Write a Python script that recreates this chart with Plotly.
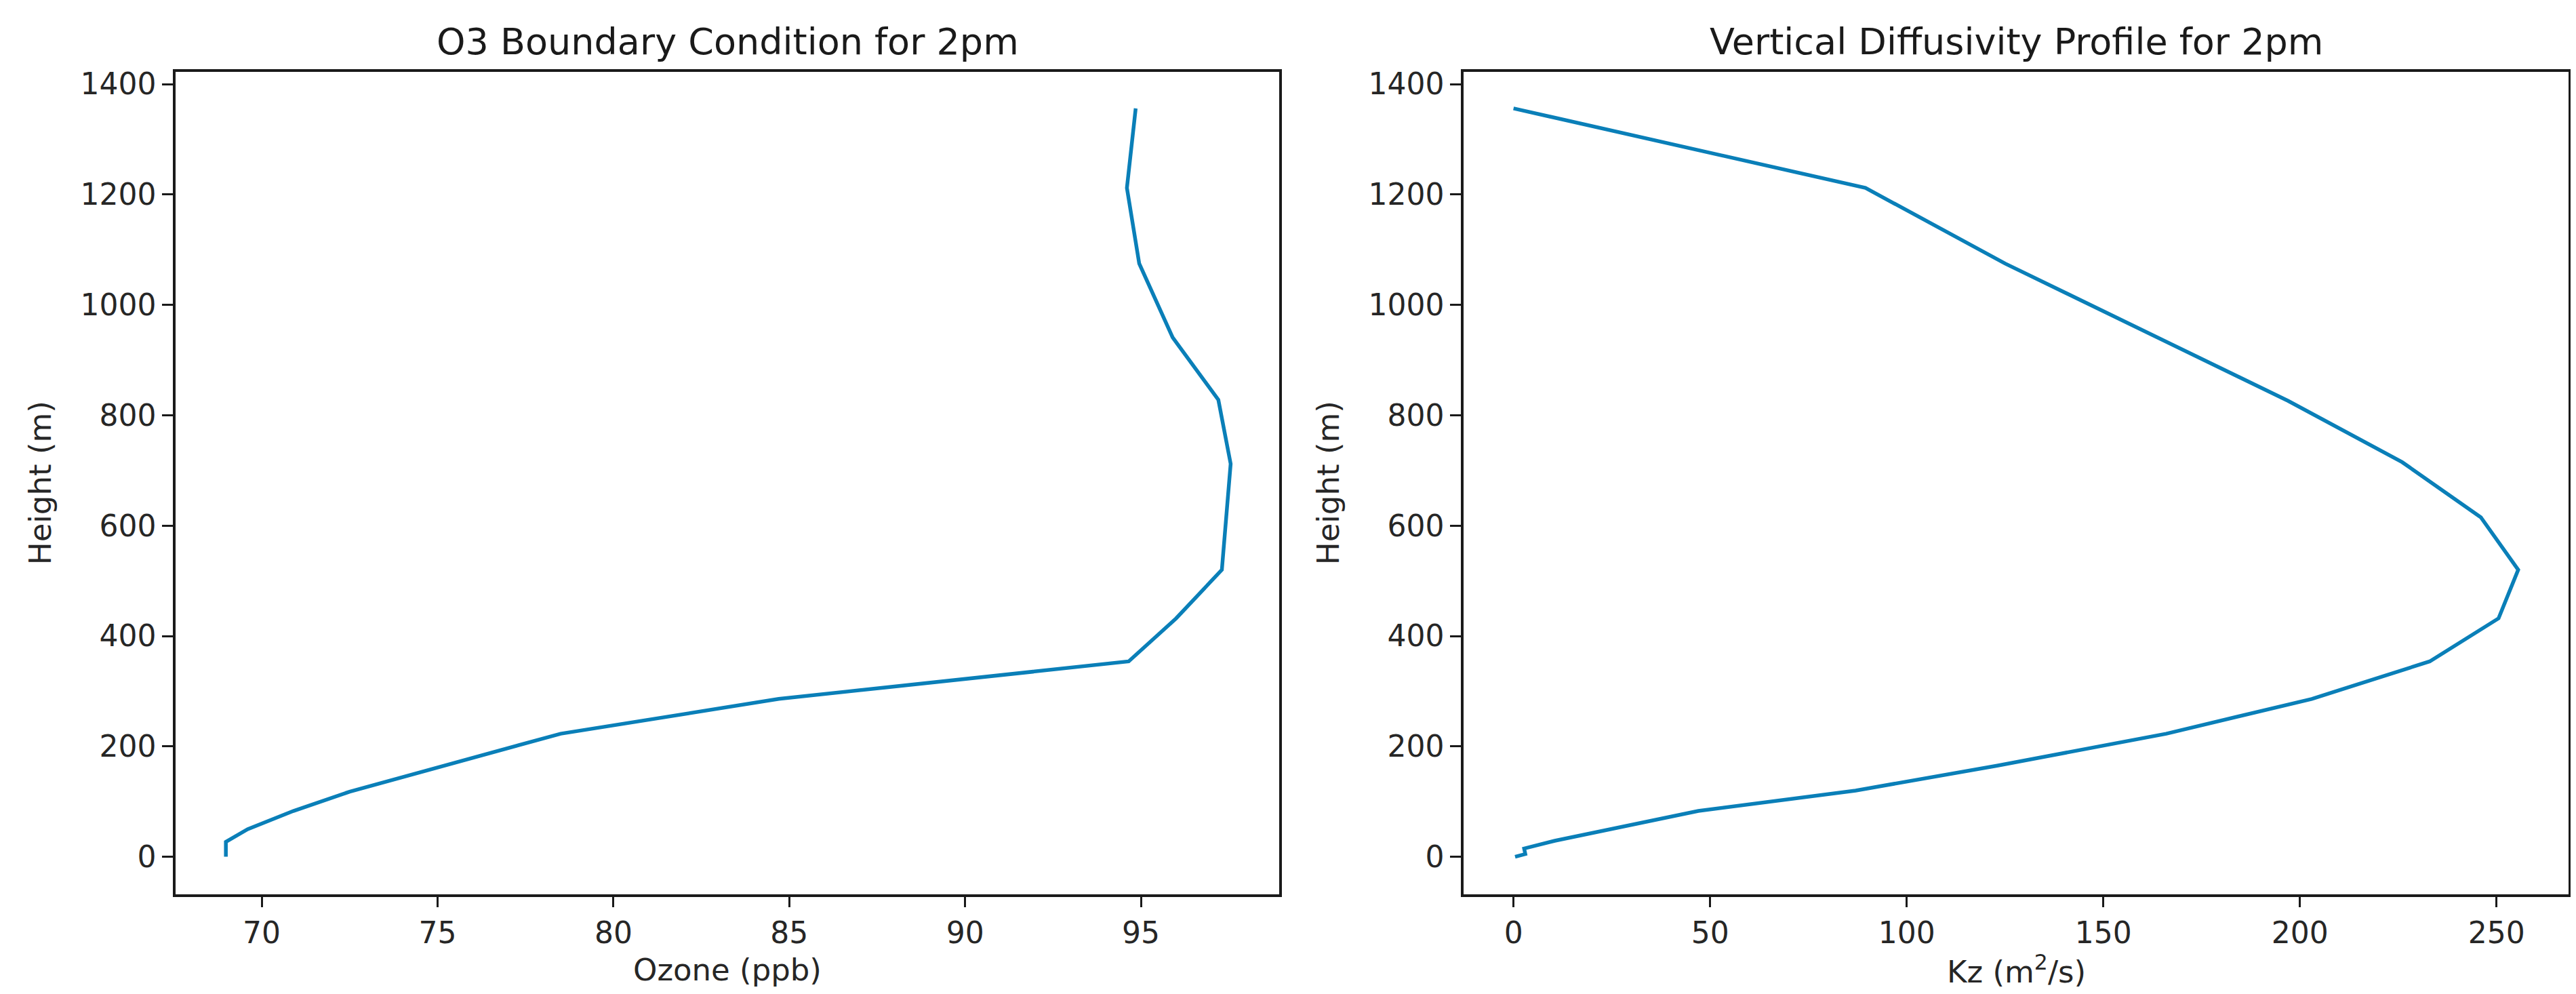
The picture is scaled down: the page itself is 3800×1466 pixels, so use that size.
"""Profils verticaux : ozone et diffusivité Kz à 14h."""

import plotly.graph_objects as go

# --- donnees ---
hauteur_o3 = [0, 27, 50, 83, 118, 223, 286, 354, 432, 520, 712, 828, 941, 1075, 1212, 1356]
ozone = [68.98, 68.98, 69.6, 70.9, 72.5, 78.5, 84.7, 94.65, 96.0, 97.3, 97.55, 97.2,
         95.9, 94.95, 94.6, 94.85]

hauteur_kz = [0, 5, 15, 29, 83, 120, 165, 223, 286, 354, 432, 520, 615, 715, 826,
              1075, 1212, 1356]
kz = [0.4, 3.0, 2.7, 10.5, 47, 87, 123, 166, 203, 233, 250.5, 255.5, 246, 226, 197,
      125, 89.5, 0]

titres = ["O3 Boundary Condition for 2pm", "Vertical Diffusivity Profile for 2pm"]
titres_x = ["Ozone (ppb)", "Kz (m<sup>2</sup>/s)"]
titre_y = "Height (m)"

W, H = 3800, 1466
COULEUR = "#0a7fb8"
POLICE = "DejaVu Sans"

# position des cadres en pixels (gauche, droite), haut / bas
cadres = [(251, 1879), (2151, 3781)]
haut, bas = 91, 1310


def axe(domaine, plage, dtick):
    return dict(
        domain=domaine, range=plage, dtick=dtick,
        showgrid=False, zeroline=False,
        showline=True, mirror=True, linecolor="#1a1a1a", linewidth=3.5,
        ticks="outside", ticklen=16, tickwidth=3, tickcolor="#1a1a1a",
        tickfont=dict(family=POLICE, size=44, color="#262626"),
    )


fig = go.Figure()
fig.add_trace(go.Scatter(x=ozone, y=hauteur_o3, mode="lines",
                         line=dict(color=COULEUR, width=5.5),
                         xaxis="x", yaxis="y", showlegend=False))
fig.add_trace(go.Scatter(x=kz, y=hauteur_kz, mode="lines",
                         line=dict(color=COULEUR, width=5.5),
                         xaxis="x2", yaxis="y2", showlegend=False))

dom_y = [(H - bas) / H, (H - haut) / H]
dx = [[g / W, d / W] for g, d in cadres]

annots = []
for i, (g, d) in enumerate(cadres):
    cx = (g + d) / 2 / W
    annots.append(dict(text=titres[i], x=cx, y=1 - 47 / H, xref="paper", yref="paper",
                       showarrow=False, xanchor="center", yanchor="middle",
                       font=dict(family=POLICE, size=54, color="#1a1a1a")))
    annots.append(dict(text=titres_x[i], x=cx, y=1 - 1422 / H, xref="paper", yref="paper",
                       showarrow=False, xanchor="center", yanchor="middle",
                       font=dict(family=POLICE, size=45, color="#262626")))
    annots.append(dict(text=titre_y, x=(g - 200) / W, y=sum(dom_y) / 2,
                       xref="paper", yref="paper", textangle=-90,
                       showarrow=False, xanchor="center", yanchor="middle",
                       font=dict(family=POLICE, size=45, color="#262626")))

fig.update_layout(
    width=W, height=H,
    margin=dict(l=0, r=0, t=0, b=0),
    paper_bgcolor="white", plot_bgcolor="white",
    xaxis=dict(axe(dx[0], [67.55, 98.93], 5), anchor="y"),
    yaxis=dict(axe(dom_y, [-67.75, 1422.75], 200), anchor="x"),
    xaxis2=dict(axe(dx[1], [-12.7, 268.3], 50), anchor="y2"),
    yaxis2=dict(axe(dom_y, [-67.75, 1422.75], 200), anchor="x2"),
    annotations=annots,
)

fig.write_html("out.html")
